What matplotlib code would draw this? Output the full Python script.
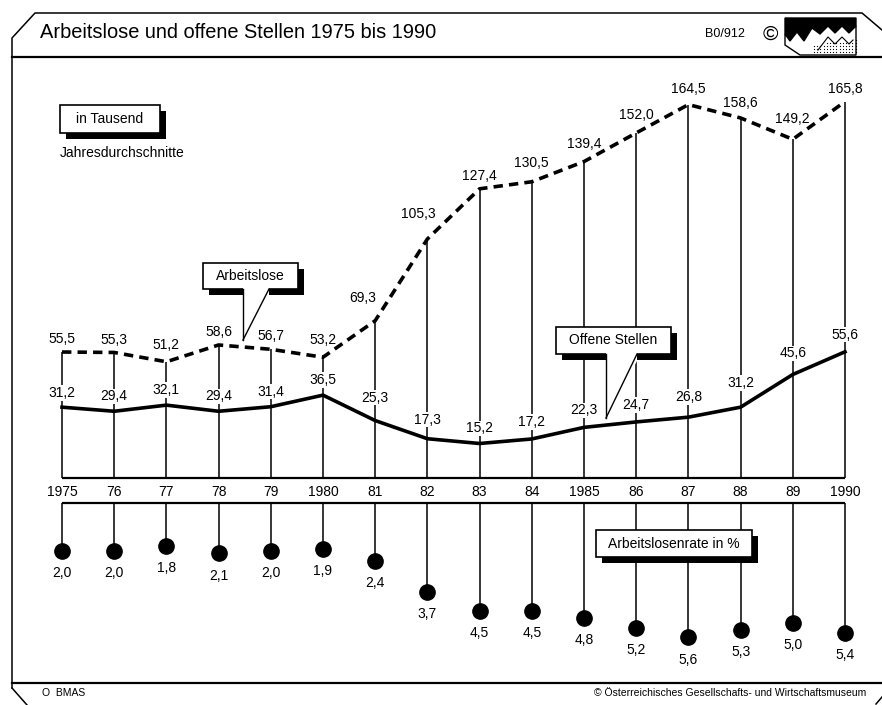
"""
Arbeitslose und offene Stellen 1975 bis 1990 (Österreich)
Nachbau der Grafik mit matplotlib -> out.png
"""

import numpy as np
import matplotlib
matplotlib.use("Agg")
import matplotlib.pyplot as plt
from matplotlib.patches import Rectangle, Polygon

plt.rcParams['font.family'] = ['Liberation Sans', 'DejaVu Sans']

# ── Daten (in Tausend, Jahresdurchschnitte) ──────────────────────────────────
jahre = np.arange(1975, 1991)
jahr_labels = ["1975", "76", "77", "78", "79", "1980", "81", "82", "83",
               "84", "1985", "86", "87", "88", "89", "1990"]
arbeitslose = [55.5, 55.3, 51.2, 58.6, 56.7, 53.2, 69.3, 105.3, 127.4,
               130.5, 139.4, 152.0, 164.5, 158.6, 149.2, 165.8]
offene_stellen = [31.2, 29.4, 32.1, 29.4, 31.4, 36.5, 25.3, 17.3, 15.2,
                  17.2, 22.3, 24.7, 26.8, 31.2, 45.6, 55.6]
arbeitslosenrate = [2.0, 2.0, 1.8, 2.1, 2.0, 1.9, 2.4, 3.7, 4.5, 4.5, 4.8,
                    5.2, 5.6, 5.3, 5.0, 5.4]

# ── Geometrie (Pixel) ────────────────────────────────────────────────────────
W, H = 882, 705
X0, DX = 62, 52.2            # Position 1975, Abstand pro Jahr
Y_BASE, PX_TOP = 478, 2.27   # Nulllinie oben, Pixel pro Tausend
Y_BASE2, PX_BOT = 503, 24    # Nulllinie unten, Pixel pro Prozentpunkt
PT = 0.72                    # Punkte pro Pixel bei 100 dpi

# Abstand der Beschriftung über dem Punkt (Pixel)
abstand_arbeitslose = [13, 12, 17, 13, 13, 17, 23, 25, 13, 19, 18, 18, 16,
                       15, 20, 13]
abstand_stellen = [14, 15, 15, 15, 15, 15, 23, 19, 15, 17, 17, 17, 20, 24,
                   21, 17]
seitlich_arbeitslose = {1981: -13, 1982: -9}

TXT_BG = dict(boxstyle="square,pad=0.05", fc="white", ec="none")


def fig_rect(left, top, right, bottom):
    return [left / W, 1 - bottom / H, (right - left) / W, (bottom - top) / H]


def komma(v):
    return f"{v:.1f}".replace(".", ",")


fig = plt.figure(figsize=(W / 100, H / 100), dpi=100)
fig.patch.set_facecolor("white")

# ── Hintergrund / Rahmen ─────────────────────────────────────────────────────
bg = fig.add_axes([0, 0, 1, 1])
bg.set_xlim(0, W)
bg.set_ylim(H, 0)
bg.axis("off")

bg.plot([12, 12, 35, 862, 882], [688, 38, 13, 13, 30], color="k", lw=1.1)
bg.plot([12, 882], [57, 57], color="k", lw=1.6)
bg.plot([12, 882], [683, 683], color="k", lw=1.6)
bg.plot([12, 27], [688, 705], color="k", lw=1.1)
bg.plot([876, 882], [704, 697], color="k", lw=1.1)

bg.text(40, 33, "Arbeitslose und offene Stellen 1975 bis 1990",
        fontsize=14.4, va="center", ha="left")
bg.text(705, 34, "B0/912", fontsize=9, va="center", ha="left")
bg.text(770, 34, "©", fontsize=15, va="center", ha="center")

# Logo (vereinfacht)
schwarz = [(785, 18), (856, 18), (856, 26), (849, 33), (842, 26), (835, 33),
           (828, 26), (820, 34), (812, 28), (804, 41), (797, 32), (790, 41),
           (785, 34)]
weiss = [(785, 34), (790, 41), (797, 32), (804, 41), (812, 28), (820, 34),
         (828, 26), (835, 33), (842, 26), (849, 33), (856, 26), (856, 55),
         (800, 55), (785, 45)]
bg.add_patch(Polygon(schwarz, closed=True, fc="k", ec="k", lw=1))
bg.add_patch(Polygon(weiss, closed=True, fc="white", ec="k", lw=1))
bg.plot([818, 828, 835, 842, 849, 853], [50, 37, 44, 37, 44, 40],
        color="k", lw=0.8)
gx, gy = np.meshgrid(np.arange(814, 856, 3.2), np.arange(40, 55, 3.0))
maske = (gy > 44 - (gx - 814) * 0.1)
bg.scatter(gx[maske], gy[maske], s=0.8, color="k", lw=0)

bg.text(42, 693, "O  BMAS", fontsize=7.5, va="center", ha="left")
bg.text(866, 693, "© Österreichisches Gesellschafts- und Wirtschaftsmuseum",
        fontsize=7.5, va="center", ha="right")

bg.text(60, 153, "Jahresdurchschnitte", fontsize=10, va="center", ha="left")

# ── Oberer Teil: Arbeitslose und offene Stellen ─────────────────────────────
xlim = (1975 - X0 / DX, 1975 + (W - X0) / DX)

ax = fig.add_axes(fig_rect(0, 60, W, Y_BASE))
ax.set_xlim(*xlim)
ax.set_ylim(0, (Y_BASE - 60) / PX_TOP)
ax.axis("off")
ax.patch.set_alpha(0)

ax.vlines(jahre, 0, arbeitslose, color="k", lw=1.1, zorder=1)
ax.hlines(0, jahre[0], jahre[-1], color="k", lw=1.6, clip_on=False, zorder=1)
ax.plot(jahre, arbeitslose, color="k", lw=2.6, dashes=(2.6, 1.7),
        solid_joinstyle="miter", zorder=4)
ax.plot(jahre, offene_stellen, color="k", lw=2.6, zorder=4)

for x, v, d in zip(jahre, arbeitslose, abstand_arbeitslose):
    dx = seitlich_arbeitslose.get(x, 0)
    ax.annotate(komma(v), (x, v), xytext=(dx * PT, d * PT),
                textcoords="offset points", ha="center", va="center",
                fontsize=10, bbox=TXT_BG, zorder=3)
for x, v, d in zip(jahre, offene_stellen, abstand_stellen):
    ax.annotate(komma(v), (x, v), xytext=(0, d * PT),
                textcoords="offset points", ha="center", va="center",
                fontsize=10, bbox=TXT_BG, zorder=3)
for x, lbl in zip(jahre, jahr_labels):
    ax.annotate(lbl, (x, 0), xytext=(0, -14 * PT), textcoords="offset points",
                ha="center", va="center", fontsize=10, annotation_clip=False)

# ── Unterer Teil: Arbeitslosenrate in % ─────────────────────────────────────
ax2 = fig.add_axes(fig_rect(0, Y_BASE2, W, 680))
ax2.set_xlim(*xlim)
ax2.set_ylim((680 - Y_BASE2) / PX_BOT, 0)
ax2.axis("off")
ax2.patch.set_alpha(0)

ax2.hlines(0, jahre[0], jahre[-1], color="k", lw=1.6, clip_on=False)
ax2.vlines(jahre, 0, arbeitslosenrate, color="k", lw=1.1)
ax2.plot(jahre, arbeitslosenrate, "o", color="k", ms=11)
for x, v in zip(jahre, arbeitslosenrate):
    ax2.annotate(komma(v), (x, v), xytext=(0, -16), textcoords="offset points",
                 ha="center", va="center", fontsize=10)

# ── Beschriftungskästen ─────────────────────────────────────────────────────
fg = fig.add_axes([0, 0, 1, 1])
fg.set_xlim(0, W)
fg.set_ylim(H, 0)
fg.axis("off")
fg.patch.set_alpha(0)


def kasten(x0, y0, x1, y1, text, zeiger=None):
    fg.add_patch(Rectangle((x0 + 6, y0 + 6), x1 - x0, y1 - y0,
                           fc="k", ec="k", lw=0))
    fg.add_patch(Rectangle((x0, y0), x1 - x0, y1 - y0,
                           fc="white", ec="k", lw=1.2))
    if zeiger is not None:
        (xa, xb, spitze) = zeiger
        fg.add_patch(Polygon([(xa, y1 + 7), spitze, (xb, y1 + 7), (xb, y1 - 1),
                              (xa, y1 - 1)], closed=True, fc="white", lw=0))
        fg.plot([xa, spitze[0]], [y1, spitze[1]], color="k", lw=1.0)
        fg.plot([xb, spitze[0]], [y1, spitze[1]], color="k", lw=1.0)
    fg.text((x0 + x1) / 2, (y0 + y1) / 2, text, fontsize=10,
            ha="center", va="center")


kasten(60, 105, 160, 133, "in Tausend")
kasten(203, 263, 298, 289, "Arbeitslose", zeiger=(243, 269, (243, 340)))
kasten(556, 327, 671, 354, "Offene Stellen", zeiger=(606, 637, (606, 418)))
kasten(596, 530, 752, 557, "Arbeitslosenrate in %")

fig.savefig("out.png", dpi=100)
